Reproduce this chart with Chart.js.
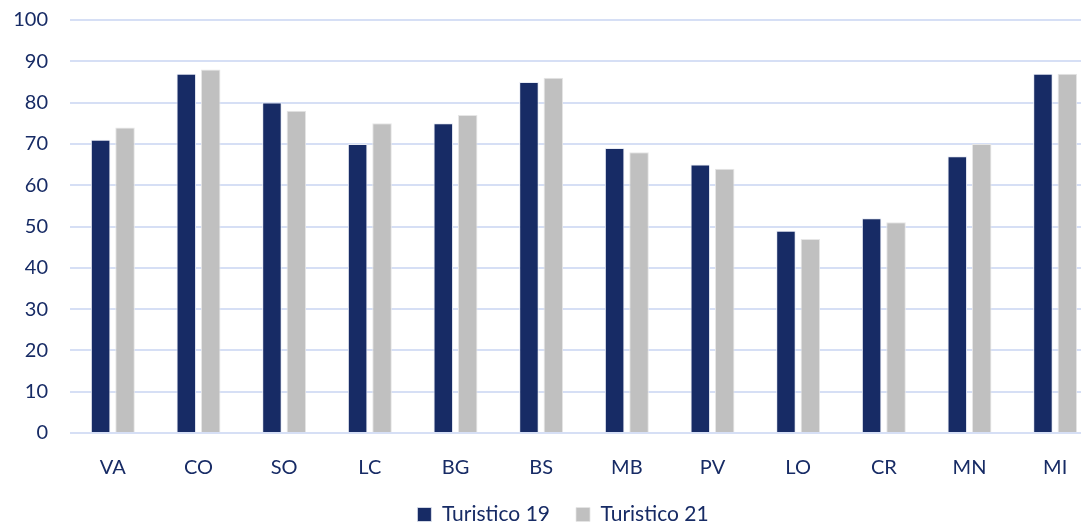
<!DOCTYPE html>
<html>
<head>
<meta charset="utf-8">
<script src="https://cdn.jsdelivr.net/npm/chart.js@4.4.1/dist/chart.umd.min.js"></script>
<style>
  html, body { margin: 0; padding: 0; overflow: hidden; background: #fff; }
  #wrap { position: absolute; left: 0; top: -14px; width: 1124px; height: 539px; }
</style>
</head>
<body>
<div id="wrap"><canvas id="chart"></canvas></div>
<script>
// Data
const provinces = ['VA', 'CO', 'SO', 'LC', 'BG', 'BS', 'MB', 'PV', 'LO', 'CR', 'MN', 'MI'];
const turistico19 = [71, 87, 80, 70, 75, 85, 69, 65, 49, 52, 67, 87];
const turistico21 = [74, 88, 78, 75, 77, 86, 68, 64, 47, 51, 70, 87];

const navy = '#172b65';
const grey = '#c0c0c0';
const gridColor = '#d6dff5';
const fontFamily = 'Lato, "Open Sans", sans-serif';

// nudge the legend a bit to the right, it is centred on the whole page in the original
const legendShift = {
    id: 'legendShift',
    afterLayout(chart) {
        if (chart.legend) {
            chart.legend.left += 14;
            chart.legend.right += 14;
        }
    }
};

new Chart(document.getElementById('chart'), {
    type: 'bar',
    data: {
        labels: provinces,
        datasets: [{
            label: 'Turistico 19',
            data: turistico19,
            backgroundColor: navy,
            borderColor: '#e8ecf5',
            borderWidth: { top: 1, left: 1, right: 1, bottom: 0 }
        }, {
            label: 'Turistico 21',
            data: turistico21,
            backgroundColor: grey,
            borderColor: '#e6e6e6',
            borderWidth: { top: 1, left: 1, right: 1, bottom: 0 }
        }]
    },
    plugins: [legendShift],
    options: {
        responsive: true,
        maintainAspectRatio: false,
        animation: false,
        categoryPercentage: 0.57,
        barPercentage: 0.8,
        // the plot runs past the right edge of the window, as in the original
        layout: { padding: { top: -2, right: 26, left: 0, bottom: -10 } },
        plugins: {
            tooltip: { enabled: false },
            legend: {
                position: 'bottom',
                labels: {
                    color: navy,
                    font: { family: fontFamily, size: 21 },
                    boxWidth: 14,
                    boxHeight: 14,
                    padding: 26
                }
            }
        },
        scales: {
            x: {
                grid: { display: false },
                border: { display: false },
                ticks: {
                    color: navy,
                    font: { family: fontFamily, size: 20 },
                    padding: 15
                },
                afterFit: axis => { axis.height = 45; }
            },
            y: {
                min: 0,
                max: 100,
                ticks: {
                    stepSize: 10,
                    color: navy,
                    font: { family: fontFamily, size: 20 },
                    padding: 22
                },
                grid: { color: gridColor, lineWidth: 2, drawTicks: false },
                border: { display: false },
                afterFit: axis => { axis.width = 70; }
            }
        }
    }
});
</script>
</body>
</html>
